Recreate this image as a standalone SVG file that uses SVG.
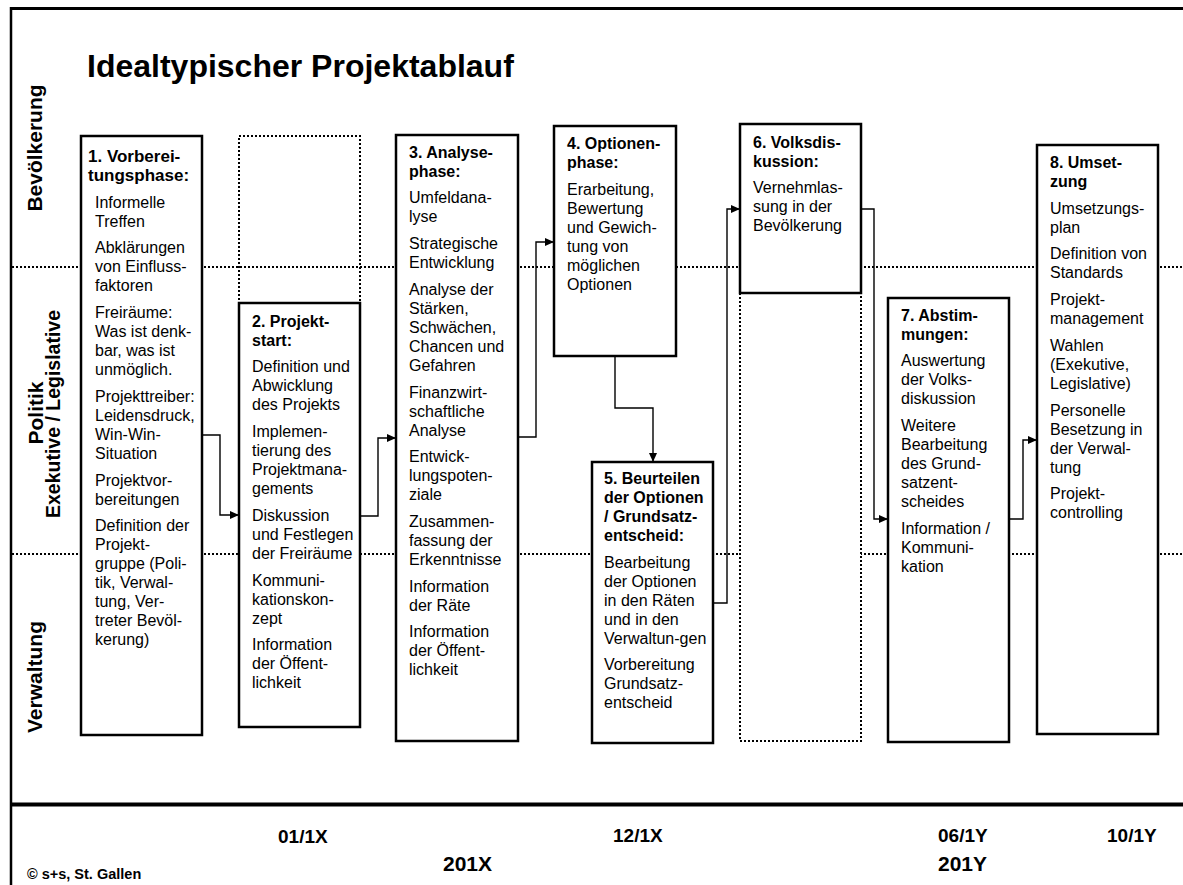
<svg xmlns="http://www.w3.org/2000/svg" width="1183" height="885" viewBox="0 0 1183 885">
<style>
text{font-family:"Liberation Sans",Arial,sans-serif;fill:#000}
.b{font-size:16px;}
.h{font-weight:bold}
.box{fill:#fff;stroke:#000;stroke-width:2.5}
.dbox{stroke:#000;stroke-width:2;stroke-dasharray:2 2}
.dl{stroke:#000;stroke-width:2;stroke-dasharray:2 2;fill:none}
.con{fill:none;stroke:#000;stroke-width:1.4}
.lane{font-size:21px;font-weight:bold}
.date{font-size:19px;font-weight:bold}
.year{font-size:21px;font-weight:bold}
</style>
<defs>
<marker id="ah" markerUnits="userSpaceOnUse" markerWidth="10" markerHeight="8" refX="9" refY="4" orient="auto">
<path d="M0,0 L9,4 L0,8 z" fill="#000"/>
</marker>
</defs>
<rect x="0" y="0" width="1183" height="885" fill="#fff"/>
<g id="frame">
<line x1="11" y1="8.5" x2="1183" y2="8.5" stroke="#000" stroke-width="3"/>
<line x1="11" y1="7" x2="11" y2="885" stroke="#000" stroke-width="2.5"/>
<line x1="11" y1="804.5" x2="1183" y2="804.5" stroke="#000" stroke-width="4"/>
<line class="dl" x1="12" y1="267" x2="1183" y2="267"/>
<line class="dl" x1="12" y1="554" x2="1183" y2="554"/>
</g>
<g id="title"><text x="87" y="77" font-size="32" font-weight="bold">Idealtypischer Projektablauf</text></g>
<g id="lanes">
<text class="lane" transform="translate(42,148) rotate(-90)" text-anchor="middle">Bevölkerung</text>
<text class="lane" font-size="22" transform="translate(43,413) rotate(-90)" text-anchor="middle">Politik</text>
<text transform="translate(60,414) rotate(-90)" text-anchor="middle" font-size="19.5" font-weight="bold">Exekutive / Legislative</text>
<text class="lane" transform="translate(42,677) rotate(-90)" text-anchor="middle">Verwaltung</text>
</g>
<g id="connectors">
<path class="con" marker-end="url(#ah)" d="M202,435 H220 V515 H239"/>
<path class="con" marker-end="url(#ah)" d="M360,516 H378 V438 H396"/>
<path class="con" marker-end="url(#ah)" d="M518,437 H536 V242 H554"/>
<path class="con" marker-end="url(#ah)" d="M615,356 V408 H653 V462"/>
<path class="con" marker-end="url(#ah)" d="M713,603 H727 V209 H740"/>
<path class="con" marker-end="url(#ah)" d="M861,209 H874 V519 H888"/>
<path class="con" marker-end="url(#ah)" d="M1009,519 H1023 V440 H1037"/>
</g>
<g id="n1">
<rect class="box" x="81" y="136" width="121" height="599"/>
<text class="b"><tspan class="h" x="88" y="162" font-size="17">1. Vorberei-</tspan><tspan class="h" x="88" dy="19" font-size="17">tungsphase:</tspan><tspan x="95" dy="26.7">Informelle</tspan><tspan x="95" dy="19">Treffen</tspan><tspan x="95" dy="26.7">Abklärungen</tspan><tspan x="95" dy="19">von Einfluss-</tspan><tspan x="95" dy="19">faktoren</tspan><tspan x="95" dy="26.7">Freiräume:</tspan><tspan x="95" dy="19">Was ist denk-</tspan><tspan x="95" dy="19">bar, was ist</tspan><tspan x="95" dy="19">unmöglich.</tspan><tspan x="95" dy="26.7">Projekttreiber:</tspan><tspan x="95" dy="19">Leidensdruck,</tspan><tspan x="95" dy="19">Win-Win-</tspan><tspan x="95" dy="19">Situation</tspan><tspan x="95" dy="26.7">Projektvor-</tspan><tspan x="95" dy="19">bereitungen</tspan><tspan x="95" dy="26.7">Definition der</tspan><tspan x="95" dy="19">Projekt-</tspan><tspan x="95" dy="19">gruppe (Poli-</tspan><tspan x="95" dy="19">tik, Verwal-</tspan><tspan x="95" dy="19">tung, Ver-</tspan><tspan x="95" dy="19">treter Bevöl-</tspan><tspan x="95" dy="19">kerung)</tspan></text>
</g>
<g id="n2">
<rect class="dbox" x="239" y="136" width="121" height="167" fill="none"/>
<rect class="box" x="239" y="303" width="121" height="424"/>
<text class="b"><tspan class="h" x="252" y="326.7">2. Projekt-</tspan><tspan class="h" x="252" dy="19">start:</tspan><tspan x="252" dy="26.7">Definition und</tspan><tspan x="252" dy="19">Abwicklung</tspan><tspan x="252" dy="19">des Projekts</tspan><tspan x="252" dy="26.7">Implemen-</tspan><tspan x="252" dy="19">tierung des</tspan><tspan x="252" dy="19">Projektmana-</tspan><tspan x="252" dy="19">gements</tspan><tspan x="252" dy="26.7">Diskussion</tspan><tspan x="252" dy="19">und Festlegen</tspan><tspan x="252" dy="19">der Freiräume</tspan><tspan x="252" dy="26.7">Kommuni-</tspan><tspan x="252" dy="19">kationskon-</tspan><tspan x="252" dy="19">zept</tspan><tspan x="252" dy="26.7">Information</tspan><tspan x="252" dy="19">der Öffent-</tspan><tspan x="252" dy="19">lichkeit</tspan></text>
</g>
<g id="n3">
<rect class="box" x="396" y="135" width="122" height="606"/>
<text class="b"><tspan class="h" x="409" y="157.7">3. Analyse-</tspan><tspan class="h" x="409" dy="19">phase:</tspan><tspan x="409" dy="26.7">Umfeldana-</tspan><tspan x="409" dy="19">lyse</tspan><tspan x="409" dy="26.7">Strategische</tspan><tspan x="409" dy="19">Entwicklung</tspan><tspan x="409" dy="26.7">Analyse der</tspan><tspan x="409" dy="19">Stärken,</tspan><tspan x="409" dy="19">Schwächen,</tspan><tspan x="409" dy="19">Chancen und</tspan><tspan x="409" dy="19">Gefahren</tspan><tspan x="409" dy="26.7">Finanzwirt-</tspan><tspan x="409" dy="19">schaftliche</tspan><tspan x="409" dy="19">Analyse</tspan><tspan x="409" dy="26.7">Entwick-</tspan><tspan x="409" dy="19">lungspoten-</tspan><tspan x="409" dy="19">ziale</tspan><tspan x="409" dy="26.7">Zusammen-</tspan><tspan x="409" dy="19">fassung der</tspan><tspan x="409" dy="19">Erkenntnisse</tspan><tspan x="409" dy="26.7">Information</tspan><tspan x="409" dy="19">der Räte</tspan><tspan x="409" dy="26.7">Information</tspan><tspan x="409" dy="19">der Öffent-</tspan><tspan x="409" dy="19">lichkeit</tspan></text>
</g>
<g id="n4">
<rect class="box" x="554" y="126" width="122" height="230"/>
<text class="b"><tspan class="h" x="567" y="149">4. Optionen-</tspan><tspan class="h" x="567" dy="19">phase:</tspan><tspan x="567" dy="26.7">Erarbeitung,</tspan><tspan x="567" dy="19">Bewertung</tspan><tspan x="567" dy="19">und Gewich-</tspan><tspan x="567" dy="19">tung von</tspan><tspan x="567" dy="19">möglichen</tspan><tspan x="567" dy="19">Optionen</tspan></text>
</g>
<g id="n5">
<rect class="box" x="592" y="462" width="121" height="281"/>
<text class="b"><tspan class="h" x="604" y="484">5. Beurteilen</tspan><tspan class="h" x="604" dy="19">der Optionen</tspan><tspan class="h" x="604" dy="19">/ Grundsatz-</tspan><tspan class="h" x="604" dy="19">entscheid:</tspan><tspan x="604" dy="26.7">Bearbeitung</tspan><tspan x="604" dy="19">der Optionen</tspan><tspan x="604" dy="19">in den Räten</tspan><tspan x="604" dy="19">und in den</tspan><tspan x="604" dy="19">Verwaltun-gen</tspan><tspan x="604" dy="26.7">Vorbereitung</tspan><tspan x="604" dy="19">Grundsatz-</tspan><tspan x="604" dy="19">entscheid</tspan></text>
</g>
<g id="n6">
<rect class="dbox" x="740" y="293" width="121" height="448" fill="#fff"/>
<rect class="box" x="740" y="124" width="121" height="169"/>
<text class="b"><tspan class="h" x="753" y="147.7">6. Volksdis-</tspan><tspan class="h" x="753" dy="19">kussion:</tspan><tspan x="753" dy="26.7">Vernehmlas-</tspan><tspan x="753" dy="19">sung in der</tspan><tspan x="753" dy="19">Bevölkerung</tspan></text>
</g>
<g id="n7">
<rect class="box" x="888" y="298" width="121" height="444"/>
<text class="b"><tspan class="h" x="901" y="320.7">7. Abstim-</tspan><tspan class="h" x="901" dy="19">mungen:</tspan><tspan x="901" dy="26.7">Auswertung</tspan><tspan x="901" dy="19">der Volks-</tspan><tspan x="901" dy="19">diskussion</tspan><tspan x="901" dy="26.7">Weitere</tspan><tspan x="901" dy="19">Bearbeitung</tspan><tspan x="901" dy="19">des Grund-</tspan><tspan x="901" dy="19">satzent-</tspan><tspan x="901" dy="19">scheides</tspan><tspan x="901" dy="26.7">Information /</tspan><tspan x="901" dy="19">Kommuni-</tspan><tspan x="901" dy="19">kation</tspan></text>
</g>
<g id="n8">
<rect class="box" x="1037" y="145" width="121" height="589"/>
<text class="b"><tspan class="h" x="1050" y="168">8. Umset-</tspan><tspan class="h" x="1050" dy="19">zung</tspan><tspan x="1050" dy="26.7">Umsetzungs-</tspan><tspan x="1050" dy="19">plan</tspan><tspan x="1050" dy="26.7">Definition von</tspan><tspan x="1050" dy="19">Standards</tspan><tspan x="1050" dy="26.7">Projekt-</tspan><tspan x="1050" dy="19">management</tspan><tspan x="1050" dy="26.7">Wahlen</tspan><tspan x="1050" dy="19">(Exekutive,</tspan><tspan x="1050" dy="19">Legislative)</tspan><tspan x="1050" dy="26.7">Personelle</tspan><tspan x="1050" dy="19">Besetzung in</tspan><tspan x="1050" dy="19">der Verwal-</tspan><tspan x="1050" dy="19">tung</tspan><tspan x="1050" dy="26.7">Projekt-</tspan><tspan x="1050" dy="19">controlling</tspan></text>
</g>
<g id="timeline">
<text class="date" x="278" y="843">01/1X</text>
<text class="date" x="613" y="842">12/1X</text>
<text class="date" x="938" y="842">06/1Y</text>
<text class="date" x="1107" y="842">10/1Y</text>
<text class="year" x="443" y="871">201X</text>
<text class="year" x="938" y="871">201Y</text>
<text x="27" y="879" font-size="14.5" font-weight="bold">© s+s, St. Gallen</text>
</g>
</svg>
